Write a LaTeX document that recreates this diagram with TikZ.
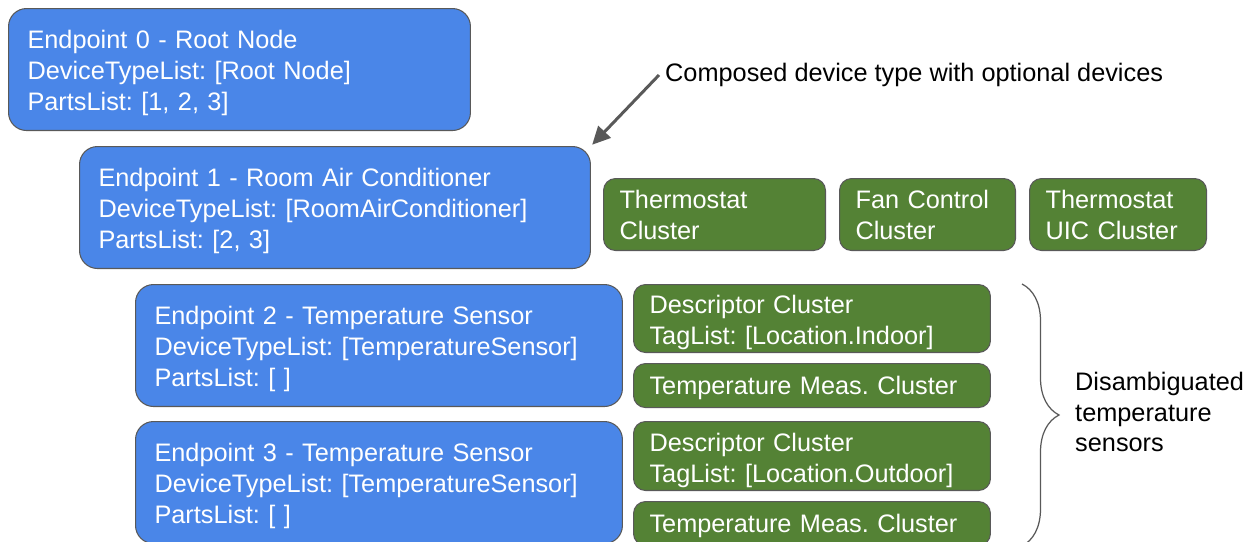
\documentclass[tikz,border=0pt]{standalone}
\usepackage{fontspec}
\setmainfont{Liberation Sans}
\usetikzlibrary{positioning}
\usetikzlibrary{arrows.meta, decorations.pathreplacing}

\definecolor{epblue}{HTML}{4A86E8}
\definecolor{clgreen}{HTML}{548235}
\definecolor{edgegray}{HTML}{595959}

\begin{document}
\frenchspacing
\begin{tikzpicture}[x=0.02cm, y=-0.02cm,
    every node/.style={font=\fontsize{14.4pt}{17.6pt}\selectfont},
    epbox/.style={draw=edgegray, line width=0.6pt, fill=epblue, text=white, rounded corners=0.36cm,
      align=left, anchor=north west, inner xsep=0.38cm, inner ysep=0pt, minimum height=2.44cm, text height=14pt},
    clbox/.style={draw=edgegray, line width=0.6pt, fill=clgreen, text=white, rounded corners=0.24cm,
      align=left, inner xsep=0.32cm, inner ysep=0pt}]
  \useasboundingbox (0,0) rectangle (1251,541);

  % Endpoints (blaue Boxen)
  \node[epbox, text width=8.48cm] (ep0) at (8,8) {Endpoint 0 - Root Node\\DeviceTypeList: [Root Node]\\PartsList: [1, 2, 3]};
  \node[epbox, text width=9.46cm] (ep1) at (79,146) {Endpoint 1 - Room Air Conditioner\\DeviceTypeList: [RoomAirConditioner]\\PartsList: [2, 3]};
  \node[epbox, text width=8.98cm] (ep2) at (135,284) {Endpoint 2 - Temperature Sensor\\DeviceTypeList: [TemperatureSensor]\\PartsList: [ ]};
  \node[epbox, text width=8.98cm] (ep3) at (135,421) {Endpoint 3 - Temperature Sensor\\DeviceTypeList: [TemperatureSensor]\\PartsList: [ ]};

  % Cluster von Endpoint 1
  \node[clbox, anchor=north west, text width=3.80cm, minimum height=1.44cm] (thermo) at (603,178) {Thermostat\\Cluster};
  \node[clbox, text width=2.88cm, minimum height=1.44cm] (fan) [right=0.26cm of thermo] {Fan Control\\Cluster};
  \node[clbox, text width=2.90cm, minimum height=1.44cm] (uic) [right=0.26cm of fan] {Thermostat\\UIC Cluster};

  % Cluster von Endpoint 2 und 3
  \node[clbox, anchor=north west, text width=6.50cm, minimum height=1.36cm, text height=15.1pt] (desc2) at (633,284) {Descriptor Cluster\\TagList: [Location.Indoor]};
  \node[clbox, text width=6.50cm, minimum height=0.88cm, text height=12.9pt] (temp2) [below=0.2cm of desc2] {Temperature Meas. Cluster};
  \node[clbox, anchor=north west, text width=6.50cm, minimum height=1.38cm, text height=15.1pt] (desc3) at (633,421) {Descriptor Cluster\\TagList: [Location.Outdoor]};
  \node[clbox, text width=6.50cm, minimum height=0.88cm, text height=12.9pt] (temp3) [below=0.2cm of desc3] {Temperature Meas. Cluster};

  % Hinweis mit Pfeil
  \node[anchor=west] (note) at (659,75) {Composed device type with optional devices};
  \draw[-{Triangle[length=0.36cm, width=0.34cm]}, edgegray, line width=1.7pt, shorten >=1pt] (note.west) -- (ep1.north east);

  % Klammer
  \coordinate (brtop) at (1022,284);
  \coordinate (brbot) at (1022,546);
  \draw[edgegray, line width=0.7pt, decorate, decoration={brace, amplitude=0.74cm}] (brtop) -- (brbot);
  \node[anchor=west, align=left] (brlabel) at (1069,412) {Disambiguated\\temperature\\sensors};

\end{tikzpicture}
\end{document}
